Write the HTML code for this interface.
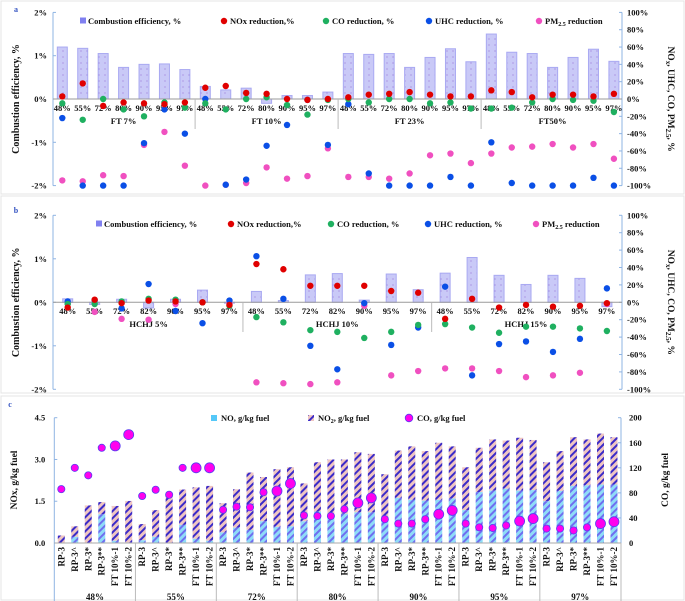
<!DOCTYPE html>
<html><head><meta charset="utf-8"><style>
html,body{margin:0;padding:0;background:#fff;}
svg{display:block;font-family:"Liberation Serif",serif;}
</style></head><body>
<svg id="chart" width="685" height="601" viewBox="0 0 685 601" xmlns="http://www.w3.org/2000/svg">
<defs>
<pattern id="cePat" width="6" height="6" patternUnits="userSpaceOnUse">
<rect width="6" height="6" fill="#c9c9f7"/><circle cx="3" cy="3" r="0.6" fill="#9a7ad8"/>
</pattern>
<pattern id="noPat" width="5" height="5" patternUnits="userSpaceOnUse" patternTransform="rotate(45)">
<rect width="5" height="5" fill="#8fdcf7"/><rect width="2" height="5" fill="#6f6ef0"/>
</pattern>
<pattern id="no2Pat" width="5" height="5" patternUnits="userSpaceOnUse" patternTransform="rotate(45)">
<rect width="5" height="5" fill="#efc6c2"/><rect width="2" height="5" fill="#3b2bc8"/>
</pattern>
</defs>
</svg>
<script>
// ---------- Panel a data ----------
const catsA = ["48%","55%","72%","80%","90%","95%","97%"];
const groupsA = ["FT 7%","FT 10%","FT 23%","FT50%"];
const ceA = [1.2,1.17,1.05,0.73,0.8,0.81,0.68, 0.29,0.21,0.25,-0.1,0.08,0.08,0.16, 1.05,1.03,1.05,0.73,0.96,1.16,0.86, 1.5,1.08,1.05,0.73,0.96,1.15,0.87];
const noxA = [3,18,-8,-4,-5,-6,-4, 13,15,7,6,0,-1,0, 2,5,6,8,5,3,3, 10,8,2,5,5,3,6];
const coA = [-5,-24,0,-12,-20,-4,-10, -5,-12,0,2,-7,-18,-1, 0,-4,0,0,-5,-4,-11, -11,-10,-4,0,-1,-2,-15];
const uhcA = [-22,-100,-100,-100,-51,-12,-40, 0,-99,-93,-54,-30,-1,-53, -6,-86,-100,-100,-100,-90,-100, -50,-97,-100,-100,-100,-91,-100];
const pmA = [-94,-95,-88,-89,-53,-38,-77, -100,-99,-97,-79,-92,-89,-57, -90,-90,-92,-86,-65,-63,-74, -63,-56,-55,-52,-56,-52,-69];
// ---------- Panel b data ----------
const catsB = ["48%","55%","72%","82%","90%","95%","97%"];
const groupsB = ["HCHJ 5%","HCHJ 10%","HCHJ 15%"];
const ceB = [0.08,-0.05,0.07,-0.13,0.07,0.28,-0.02, 0.25,0.04,0.63,0.66,0.05,0.65,0.29, 0.67,1.03,0.62,0.41,0.62,0.55,-0.1];
const noxB = [-6,3,-1,2,1,0,-3, 44,38,19,19,19,13,11, -19,4,-6,-3,-5,-4,-1];
const coB = [-2,-2,1,4,3,0,-4, -17,-23,-32,-34,-41,-34,-26, -25,-29,-35,-28,-28,-30,-33];
const uhcB = [1,2,-7,21,-10,-24,2, 53,4,-50,-77,-1,-49,-29, 18,-84,-48,-45,-57,-42,16];
const pmB = [-2,-11,-19,-20,-2,0,-1, -92,-93,-94,-92,-4,-84,-79, -76,-76,-79,-86,-84,-81,-2];
// ---------- Panel c data ----------
const catsC = ["RP-3","RP-3^","RP-3*","RP-3**","FT 10%-1","FT 10%-2"];
const groupsC = ["48%","55%","72%","80%","90%","95%","97%"];
const noxTotalC = [0.27,0.6,1.35,1.47,1.33,1.51, 0.68,1.18,1.8,1.92,2.0,2.05, 1.43,1.93,2.53,2.37,2.65,2.72, 2.14,2.9,3.0,3.0,3.26,3.2, 2.47,3.32,3.47,3.3,3.6,3.47, 2.72,3.42,3.72,3.68,3.78,3.7, 2.9,3.3,3.8,3.72,3.93,3.8];
const noC = [0,0.22,0,1.03,0.08,0.02, 0.1,0.22,0,0.65,0.15,0.08, 0.38,0.55,0.47,0.78,0.58,0.6, 0.78,1.13,1.0,1.05,1.1,1.1, 0.95,1.62,1.55,1.52,1.55,1.6, 1.18,1.83,1.88,1.95,1.88,1.9, 1.5,1.87,2.05,2.07,2.1,2.1];
const coC = [86,120,108,152,155,173, 75,85,77,120,120,120, 53,58,57,81,83,95, 44,43,43,54,64,72, 38,31,31,38,46,52, 31,25,24,28,35,39, 23,23,20,25,31,34];
const leftTicksAB = ["2%","1%","0%","-1%","-2%"];
const rightTicksAB = ["100%","80%","60%","40%","20%","0%","-20%","-40%","-60%","-80%","-100%"];
const leftTicksC = ["4.5","3.0","1.5","0.0"];
const rightTicksC = ["200","160","120","80","40","0"];

const svg = document.getElementById('chart');
const NS = "http://www.w3.org/2000/svg";
function mk(tag, attrs, parent){
  const e = document.createElementNS(NS, tag);
  for (const k in attrs) e.setAttribute(k, attrs[k]);
  (parent||svg).appendChild(e);
  return e;
}
function txt(x,y,s,size,anchor,parent,extra){
  const t = mk('text', Object.assign({x:x,y:y,'font-size':size,'font-weight':'bold','text-anchor':anchor||'middle',fill:'#111'}, extra||{}), parent);
  t.textContent = s;
  return t;
}

// panel frames
[[1,1,683,193],[1,196,683,197],[1,396,683,204]].forEach((r,i)=>{
  const f = mk('rect',{x:r[0],y:r[1],width:r[2],height:r[3],fill:'none',stroke:'#e4e4e4','stroke-width':1});
  
  
});

function reductionPanel(cfg){
  const g = mk('g',{});
  
  
  const L = 53, R = 622;
  const yL = v => cfg.y0 - v*cfg.ppp;               // left axis (% CE)
  const yR = v => cfg.y0 - v/50*cfg.ppp;            // right axis (%)
  const xC = i => cfg.x0 + i*cfg.dx;
  const n = cfg.ce.length;
  // panel letter
  const pl = txt(16, cfg.letterY, cfg.letter, 8, 'middle', g, {fill:'#3050c0'});
  
  
  // axes
  const la = mk('line',{x1:L,y1:yL(2),x2:L,y2:yL(-2),stroke:'#8fb4e3','stroke-width':1},g);
  
  
  const ra = mk('line',{x1:R,y1:yL(2),x2:R,y2:yL(-2),stroke:'#8fb4e3','stroke-width':1},g);
  
  
  leftTicksAB.forEach((s,i)=>{
    const v = 2-i;
    mk('line',{x1:L,y1:yL(v),x2:L+3,y2:yL(v),stroke:'#8fb4e3'},g);
    const t = txt(L-6, yL(v)+3, s, 8.5, 'end', g);
    
    
  });
  rightTicksAB.forEach((s,i)=>{
    const v = 100-i*20;
    mk('line',{x1:R,y1:yR(v),x2:R-3,y2:yR(v),stroke:'#8fb4e3'},g);
    const t = txt(R+5, yR(v)+3, s, 8.5, 'start', g);
    
    
  });
  const yt = txt(0,0,'Combustion efficiency, %',10,'middle',g,{transform:`translate(19,${cfg.y0}) rotate(-90)`});
  
  
  const rt = txt(0,0,'',9.5,'middle',g,{transform:`translate(668,${cfg.y0}) rotate(90)`});
  rt.innerHTML = 'NO<tspan font-size="7" dy="2">x</tspan><tspan dy="-2">, UHC, CO, PM</tspan><tspan font-size="7" dy="2">2.5</tspan><tspan dy="-2">, %</tspan>';
  
  
  // bars
  for(let i=0;i<n;i++){
    const v = cfg.ce[i];
    const b = mk('rect',{x:xC(i)-5,y:Math.min(yL(v),yL(0)),width:10,height:Math.abs(yL(v)-yL(0)),fill:'url(#cePat)',stroke:'#a9a9f2','stroke-width':1},g);
    
    
  }
  // zero line
  const zl = mk('line',{x1:L,y1:yL(0),x2:R,y2:yL(0),stroke:'#9a9a9a','stroke-width':1},g);
  
  
  // category labels
  for(let i=0;i<n;i++){
    const t = txt(xC(i), cfg.catY, cfg.cats[i%7], 8.5, 'middle', g);
    
    
  }
  cfg.groups.forEach((s,gi)=>{
    const t = txt(xC(gi*7+3), cfg.grpY, s, 8.5, 'middle', g);
    
    
    if(gi>0){
      const d = mk('line',{x1:xC(gi*7-0.5),y1:yL(0),x2:xC(gi*7-0.5),y2:cfg.grpY+5,stroke:'#bbb'},g);
      
      
    }
  });
  // series dots
  const series = [[cfg.pm,'#f050c0','pm25-point'],[cfg.uhc,'#0a4fe6','uhc-point'],[cfg.co,'#1fb060','co-point'],[cfg.nox,'#e00000','nox-point']];
  series.forEach(s=>{
    s[0].forEach((v,i)=>{
      const c = mk('circle',{cx:xC(i),cy:yR(v),r:3.2,fill:s[1]},g);
      
      
    });
  });
  // legend
  const lg = mk('g',{},g);
  
  
  const ly = cfg.legY;
  const sq = mk('rect',{x:cfg.leg[0]-3,y:ly-3.5,width:6,height:6,fill:'#8080f0'},lg);
  
  
  const l0 = txt(cfg.leg[0]+5, ly+3, 'Combustion efficiency, %', 8.5, 'start', lg);
  
  
  const items = [['#e00000','NOx reduction,%','nox'],['#1fb060','CO reduction, %','co'],['#0a4fe6','UHC  reduction, %','uhc']];
  items.forEach((it,k)=>{
    const x = cfg.leg[k+1];
    const c = mk('circle',{cx:x,cy:ly,r:3.2,fill:it[0]},lg);
    
    
    const t = txt(x+6, ly+3, it[1], 8.5, 'start', lg);
    
    
  });
  const pc = mk('circle',{cx:cfg.leg[4],cy:ly,r:3.2,fill:'#f050c0'},lg);
  
  
  const pt = txt(cfg.leg[4]+6, ly+3, '', 8.5, 'start', lg);
  pt.innerHTML = 'PM<tspan font-size="6" dy="2">2.5</tspan><tspan dy="-2"> reduction</tspan>';
  
  
}

reductionPanel({name:'panel-a',letter:'a',letterY:12,x0:62.3,dx:20.43,y0:99,ppp:43.3,catY:111,grpY:124,legY:21,
  leg:[83,224,326,429,539],cats:catsA,groups:groupsA,ce:ceA,nox:noxA,co:coA,uhc:uhcA,pm:pmA});
reductionPanel({name:'panel-b',letter:'b',letterY:213,x0:67.7,dx:26.96,y0:302.3,ppp:43.5,catY:314,grpY:327,legY:224,
  leg:[99,231,331,428,536],cats:catsB,groups:groupsB,ce:ceB,nox:noxB,co:coB,uhc:uhcB,pm:pmB});

// ---------- Panel c ----------
(function(){
  const g = mk('g',{});
  
  
  const L = 54.3, R = 621, y0 = 543, yTop = 417.7;
  const yL = v => y0 - v/4.5*(y0-yTop);
  const yR = v => y0 - v/200*(y0-yTop);
  const x0 = 61.3, dx = 13.48;
  const xC = i => x0 + i*dx;
  const pl = txt(10, 407, 'c', 8, 'middle', g, {fill:'#3050c0'});
  
  
  const la = mk('line',{x1:L,y1:yTop,x2:L,y2:601,stroke:'#8fb4e3'},g);
  
  
  const ra = mk('line',{x1:R,y1:yTop,x2:R,y2:y0,stroke:'#8fb4e3'},g);
  
  
  leftTicksC.forEach((s,i)=>{
    const v = 4.5-i*1.5;
    mk('line',{x1:L,y1:yL(v),x2:L+3,y2:yL(v),stroke:'#8fb4e3'},g);
    const t = txt(L-9, yL(v)+3, s, 8.5, 'end', g);
    
    
  });
  rightTicksC.forEach((s,i)=>{
    const v = 200-i*40;
    mk('line',{x1:R,y1:yR(v),x2:R-3,y2:yR(v),stroke:'#8fb4e3'},g);
    const t = txt(R+8, yR(v)+3, s, 8.5, 'start', g);
    
    
  });
  const yt = txt(0,0,'NOx, g/kg fuel',9.5,'middle',g,{transform:'translate(17,480) rotate(-90)'});
  
  
  const rt = txt(0,0,'CO,  g/kg fuel',9.5,'middle',g,{transform:'translate(668,480) rotate(-90)'});
  
  
  // bars
  noxTotalC.forEach((tot,i)=>{
    const no = noC[i];
    const b2 = mk('rect',{x:xC(i)-3.5,y:yL(tot),width:7,height:yL(no)-yL(tot),fill:'url(#no2Pat)'},g);
    
    
    if(no>0){
      const b1 = mk('rect',{x:xC(i)-3.5,y:yL(no),width:7,height:y0-yL(no),fill:'url(#noPat)'},g);
      
      
    }
  });
  const xa = mk('line',{x1:L,y1:y0,x2:R,y2:y0,stroke:'#aaa'},g);
  
  
  // CO dots
  coC.forEach((v,i)=>{
    const big = (i%6)>=4;
    const c = mk('circle',{cx:xC(i),cy:yR(v),r:big?5:3.6,fill:'#ff00ee',stroke:'#5a3df0','stroke-width':0.8},g);
    
    
  });
  // category labels
  noxTotalC.forEach((v,i)=>{
    const t = txt(0,0,catsC[i%6],9,'end',g,{transform:`translate(${xC(i)+3},547) rotate(-90)`});
    
    
  });
  groupsC.forEach((s,gi)=>{
    const t = txt(xC(gi*6+2.5), 600, s, 9, 'middle', g);
    
    
    if(gi>0){
      const d = mk('line',{x1:xC(gi*6-0.5),y1:y0,x2:xC(gi*6-0.5),y2:601,stroke:'#bbb'},g);
      
      
    }
  });
  const rb = mk('line',{x1:R,y1:y0,x2:R,y2:601,stroke:'#bbb'},g);
  
  
  // legend
  const lg = mk('g',{},g);
  
  
  const ly = 418;
  const s1 = mk('rect',{x:211,y:ly-3,width:6,height:6,fill:'#55c8f8'},lg);
  
  
  const t1 = txt(221, ly+3, 'NO, g/kg fuel', 8.5, 'start', lg);
  
  
  const s2 = mk('rect',{x:308,y:ly-3,width:6,height:6,fill:'url(#no2Pat)'},lg);
  
  
  const t2 = txt(318, ly+3, '', 8.5, 'start', lg);
  t2.innerHTML = 'NO<tspan font-size="6" dy="2">2</tspan><tspan dy="-2">, g/kg fuel</tspan>';
  
  
  const s3 = mk('circle',{cx:409,cy:ly,r:3.8,fill:'#ff00ee',stroke:'#5a3df0','stroke-width':0.8},lg);
  
  
  const t3 = txt(417, ly+3, 'CO,  g/kg fuel', 8.5, 'start', lg);
  
  
})();
</script>
</body></html>
